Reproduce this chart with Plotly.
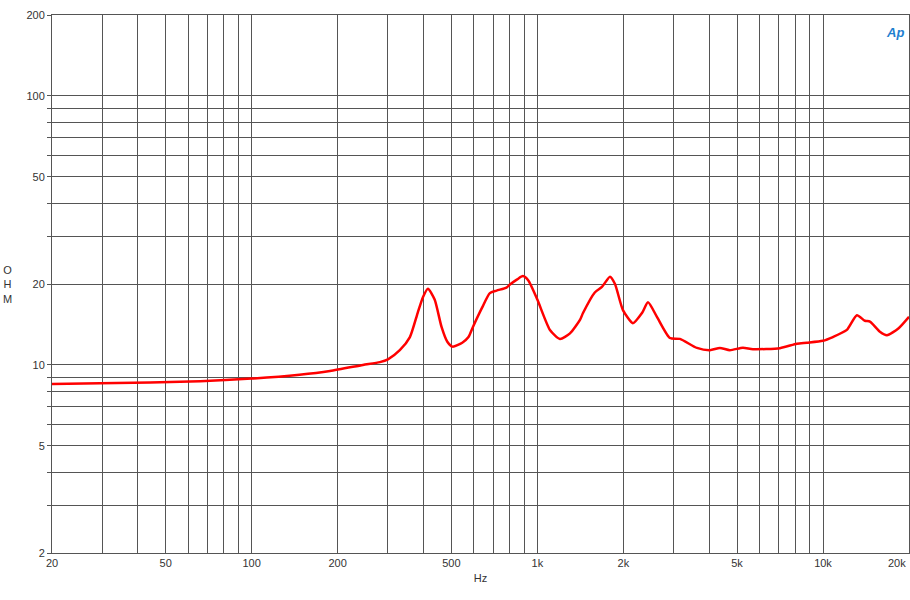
import math
import plotly.graph_objects as go

freq_hz = [20, 29.4, 66, 100, 147, 188, 245, 281, 300, 330, 358, 381, 398, 414, 437, 462, 484, 505,
           546, 574, 595, 640, 682, 720, 780, 802, 850, 890, 930, 1000, 1107, 1200, 1301, 1410, 1445,
           1589, 1683, 1796, 1870, 1994, 2161, 2325, 2440, 2622, 2911, 3156, 3620, 4020, 4355, 4721,
           5243, 5684, 7066, 8104, 8785, 9990, 10830, 12120, 13140, 14020, 14600, 15820, 16740, 18400,
           20000]
impedance_ohm = [8.5, 8.55, 8.7, 8.9, 9.2, 9.5, 10.0, 10.25, 10.5, 11.35, 12.7, 15.6, 17.9, 19.2, 17.5,
                 13.85, 12.2, 11.7, 12.1, 12.7, 13.85, 16.3, 18.5, 18.9, 19.4, 19.9, 20.8, 21.4, 20.6,
                 17.5, 13.5, 12.5, 13.1, 14.7, 15.6, 18.6, 19.5, 21.3, 20.0, 16.0, 14.3, 15.6, 17.1,
                 15.1, 12.6, 12.5, 11.57, 11.35, 11.57, 11.35, 11.6, 11.45, 11.55, 12.0, 12.1, 12.3,
                 12.7, 13.5, 15.3, 14.6, 14.5, 13.3, 12.9, 13.7, 15.1]

x_grid = [20, 30, 40, 50, 60, 70, 80, 90, 100, 200, 300, 400, 500, 600, 700, 800, 900,
          1000, 2000, 3000, 4000, 5000, 6000, 7000, 8000, 9000, 10000, 20000]
x_labels = {20: "20", 50: "50", 100: "100", 200: "200", 500: "500", 1000: "1k",
            2000: "2k", 5000: "5k", 10000: "10k"}
x_last_label = "20k"
y_grid = [2, 3, 4, 5, 6, 7, 8, 9, 10, 20, 30, 40, 50, 60, 70, 80, 90, 100, 200]
y_labels = {2: "2", 5: "5", 10: "10", 20: "20", 50: "50", 100: "100", 200: "200"}

fig = go.Figure()
fig.add_trace(go.Scatter(x=freq_hz, y=impedance_ohm, mode="lines",
                         line=dict(color="#ff0000", width=2.5, shape="spline", smoothing=0.6),
                         hoverinfo="skip", showlegend=False))

grid_col = "#555555"
fig.update_layout(
    width=910, height=600,
    margin=dict(l=52, r=1, t=15, b=47),
    paper_bgcolor="white", plot_bgcolor="white",
    font=dict(family="Liberation Sans, Arial, sans-serif", size=11, color="#333333"),
    xaxis=dict(type="log", range=[math.log10(20), math.log10(20000)], tickmode="array",
               tickvals=x_grid, ticktext=[x_labels.get(v, "") for v in x_grid],
               showgrid=True, gridcolor=grid_col, gridwidth=1,
               showline=True, linecolor=grid_col, linewidth=1, mirror=True,
               ticks="", zeroline=False,
               title=dict(text="Hz", standoff=6, font=dict(size=11))),
    yaxis=dict(type="log", range=[math.log10(2), math.log10(200)], tickmode="array",
               tickvals=y_grid, ticktext=[y_labels.get(v, "") for v in y_grid],
               showgrid=True, gridcolor=grid_col, gridwidth=1,
               showline=True, linecolor=grid_col, linewidth=1, mirror=True,
               ticks="outside", ticklen=4, tickcolor=grid_col, zeroline=False),
)
fig.add_annotation(text=x_last_label, xref="paper", yref="paper", x=1.0, y=0.0,
                   xanchor="right", yanchor="top", showarrow=False, xshift=-1, yshift=-2,
                   font=dict(size=11, color="#333333"))
fig.add_annotation(text="O<br>H<br>M", xref="paper", yref="paper", x=-0.059, y=0.50,
                   xanchor="left", yanchor="middle", showarrow=False,
                   font=dict(size=11, color="#333333"), align="center")
fig.add_annotation(text="<i><b>Ap</b></i>", xref="paper", yref="paper", x=0.997, y=0.985,
                   xanchor="right", yanchor="top", showarrow=False,
                   font=dict(size=13, color="#1f7fd0", family="Liberation Sans, Arial"))
fig.write_html("out.html", config={"displayModeBar": False})

with open("out.html", "r", encoding="utf-8") as fh:
    html = fh.read()
html = html.replace("<body>", '<body style="margin:0;padding:0;overflow:hidden">', 1)
with open("out.html", "w", encoding="utf-8") as fh:
    fh.write(html)
